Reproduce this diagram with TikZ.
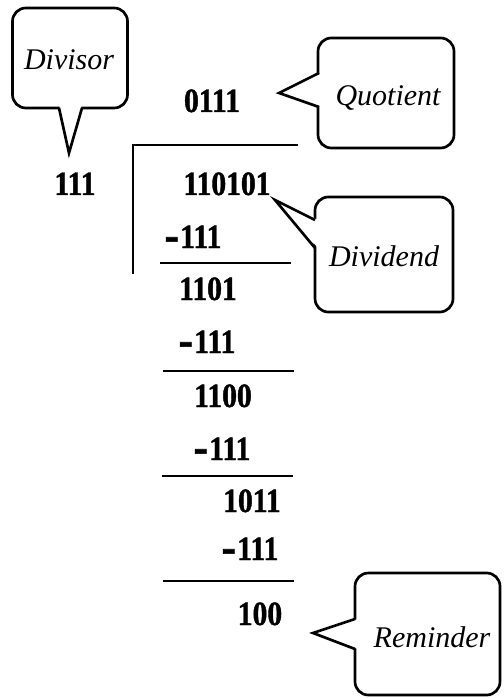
\documentclass[tikz,border=0pt]{standalone}
\usepackage{fontspec}
\usepackage{graphicx}
\setmainfont{Liberation Serif}
\newfontfamily\digitfont{Liberation Serif}[FakeStretch=0.87, FakeBold=1.2]
\usepackage{tikz}
\newcommand{\bigdash}{\raisebox{-2.6pt}{\scalebox{1.45}[1.5]{-}}\kern1pt}

\tikzset{
  num/.style={anchor=base, inner sep=0pt, font=\digitfont\bfseries\fontsize{25.5pt}{30pt}\selectfont},
  word/.style={anchor=base, inner sep=0pt, font=\itshape\fontsize{22.5pt}{27pt}\selectfont},
  bubble/.style={draw, line width=2pt, rounded corners=10pt, inner sep=0pt},
  tail/.style={line width=2pt},
}

\begin{document}
\begin{tikzpicture}[x=0.75pt, y=-0.75pt]
\useasboundingbox (0,0) rectangle (503,698);
% bubbles
\node [bubble, minimum width=86.25pt, minimum height=75pt] (divbox) at (70,58) {};
\node [bubble, minimum width=102pt, minimum height=82.5pt] (quobox) at (386,93) {};
\node [bubble, minimum width=103.5pt, minimum height=86.25pt] (dvdbox) at (384,254.5) {};
\node [bubble, minimum width=108.75pt, minimum height=91.5pt] (rembox) at (427.5,634) {};
\fill [white] (59,104) -- (69,153) -- (82,104) -- cycle;
\fill [white] (322,73) -- (279,93) -- (322,107) -- cycle;
\fill [white] (318,220) -- (275,200) -- (318,248) -- cycle;
\fill [white] (358,619) -- (313,633) -- (358,649) -- cycle;
\draw [tail] (59,108) -- (69,153) -- (82,108);
\draw [tail] (319,73) -- (279,93) -- (319,107);
\draw [tail] (315,220) -- (275,200) -- (315,248);
\draw [tail] (355,619) -- (313,633) -- (355,649);
\node [word] (divisor) at (69,70) {Divisor};
\node [word] (quotient) at (388,106) {Quotient};
\node [word] (dividend) at (384,267) {Dividend};
\node [word] (reminder) at (432,647) {Reminder};
% long division
\node [num] (q) at (212,112) {0111};
\node [num] (d) at (75,195) {111};
\node [num] (n) at (227,195) {110101};
\node [num] (s1) at (193,248) {\bigdash 111};
\node [num] (r1) at (208,300) {1101};
\node [num] (s2) at (207,353) {\bigdash 111};
\node [num] (r2) at (223,407) {1100};
\node [num] (s3) at (222,460) {\bigdash 111};
\node [num] (r3) at (252,512) {1011};
\node [num] (s4) at (250,560) {\bigdash 111};
\node [num] (r) at (260,625) {100};
\draw [black, thick] (298,145) -- (133,145) -- (133,274);
\draw [black, thick] (160,263) -- (291,263);
\draw [black, thick] (163,371) -- (294,371);
\draw [black, thick] (162,476) -- (293,476);
\draw [black, thick] (163,581) -- (294,581);
\end{tikzpicture}
\end{document}
